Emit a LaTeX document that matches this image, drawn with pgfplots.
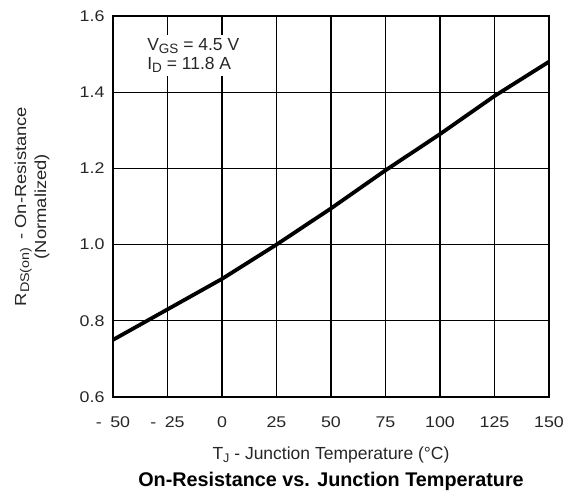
\documentclass[border=0pt]{standalone}
\usepackage{pgfplots}
\pgfplotsset{compat=1.18}
\usepackage{fontspec}
\setmainfont{Liberation Sans}
\newfontfamily\wide[FakeStretch=1.15]{Liberation Sans}
\newcommand\sub[1]{\raisebox{-0.35ex}{\fontsize{13.5}{14}\selectfont #1}}
\newcommand\subs[1]{\raisebox{-0.35ex}{\fontsize{12.5}{13}\selectfont #1}}
\begin{document}
\begin{tikzpicture}
\begin{axis}[
  scale only axis,
  width=436pt, height=381pt,
  xmin=-50, xmax=150, ymin=0.6, ymax=1.6,
  xtick={-50,-25,0,25,50,75,100,125,150},
  xticklabels={-\hspace{0.55em}50,-\hspace{0.55em}25,0,25,50,75,100,125,150},
  ytick={0.6,0.8,1.0,1.2,1.4,1.6},
  yticklabel style={/pgf/number format/fixed, /pgf/number format/fixed zerofill, /pgf/number format/precision=1, /pgf/number format/assume math mode=true, xshift=-5pt},
  ticklabel style={font=\wide\fontsize{15.5}{17}\selectfont, text=black!85},
  major tick length=0pt,
  grid=major,
  major grid style={black, line width=1.3pt},
  axis line style={black, line width=1.4pt},
  xticklabel style={yshift=-16pt},
  xlabel={T\subs{J} - Junction Temperature (°C)},
  xlabel style={font=\fontsize{17.5}{18}\selectfont, text=black!85, at={(axis description cs:0.5,-0.151)}, anchor=center},
  ylabel={R\subs{DS(on)} \,- On-Resistance\\(Normalized)},
  ylabel style={font=\wide\fontsize{16}{20}\selectfont, text=black!85, align=center, at={(axis description cs:-0.186,0.5)}, anchor=center, rotate=0},
  title={\textbf{On-Resistance vs. Junction Temperature}},
  title style={font=\fontsize{19.8}{20}\selectfont, at={(axis description cs:0.5,-0.236)}, anchor=center},
]
\addplot[black, line width=3.8pt] coordinates {
  (-50,0.750) (-25,0.830) (0,0.910) (25,1.000) (50,1.095) (75,1.195) (100,1.290) (125,1.390) (150,1.480)
};
\node[fill=white, anchor=north west, align=left, inner xsep=4pt, inner ysep=3pt, font=\fontsize{17.5}{19}\selectfont, text=black!85] at (axis cs:-36.2,1.55)
  {V\sub{GS} = 4.5 V\\I\sub{D} = 11.8 A};
\end{axis}
\path (current axis.south west) ++(-113pt,-94pt) coordinate (bl);
\path (current axis.north east) ++(24pt,16pt) coordinate (tr);
\pgfresetboundingbox
\useasboundingbox (bl) rectangle (tr);
\end{tikzpicture}
\end{document}
